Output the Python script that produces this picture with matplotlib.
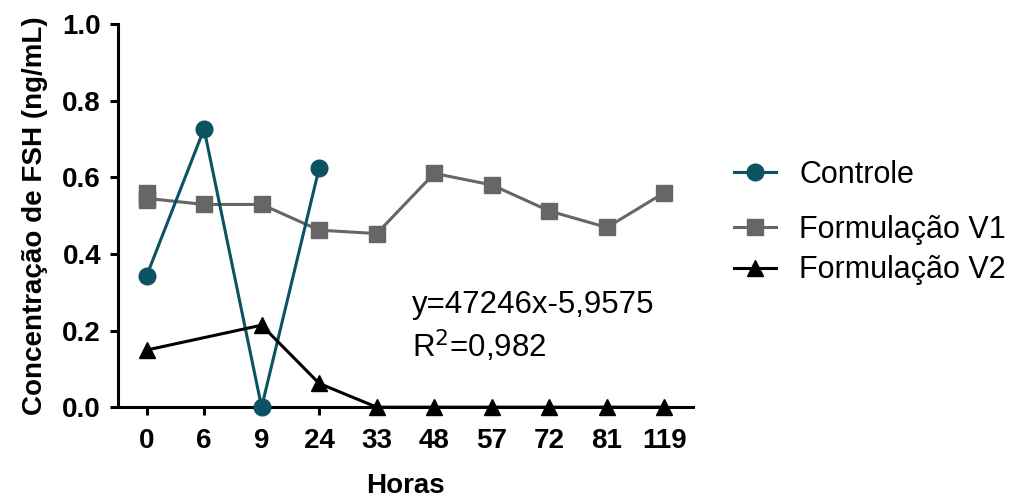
import matplotlib.pyplot as plt
import numpy as np

plt.rcParams['font.family'] = ['Liberation Sans', 'DejaVu Sans']

# Time points (hours), plotted as evenly spaced categories
horas = ['0', '6', '9', '24', '33', '48', '57', '72', '81', '119']

controle = [0.342, 0.726, 0.0, 0.624]
form_v1 = [0.545, 0.529, 0.529, 0.462, 0.453, 0.610, 0.580, 0.512, 0.469, 0.560]
form_v1_t0 = [0.559, 0.540]  # two overlapping readings at t=0
form_v2 = [0.149, None, 0.214, 0.062, 0.0, 0.0, 0.0, 0.0, 0.0, 0.0]

teal = '#0b5263'
gray = '#666666'

fig = plt.figure(figsize=(10.15, 4.99), dpi=100)
ax = fig.add_axes([0.116, 0.184, 0.567, 0.768])

x = np.arange(len(horas))
l1, = ax.plot(x[:len(controle)], controle, '-o', color=teal, lw=2.2, ms=12,
              label='Controle', zorder=4, clip_on=False)
l2, = ax.plot(x, form_v1, '-s', color=gray, lw=2.2, ms=11,
              label='Formulação V1', zorder=3, clip_on=False)
ax.plot([0, 0], form_v1_t0, 's', color=gray, ms=11, zorder=3)
v2 = np.array([np.nan if v is None else v for v in form_v2], dtype=float)
mask = ~np.isnan(v2)
l3, = ax.plot(x[mask], v2[mask], '-^', color='black', lw=2.2, ms=11,
              label='Formulação V2', zorder=5, clip_on=False)

ax.set_xlim(-0.5, 9.5)
ax.set_ylim(0, 1.0)
ax.set_xticks(x)
ax.set_xticklabels(horas)
ax.set_yticks([0, 0.2, 0.4, 0.6, 0.8, 1.0])
ax.set_yticklabels(['0.0', '0.2', '0.4', '0.6', '0.8', '1.0'])

for s in ['top', 'right']:
    ax.spines[s].set_visible(False)
for s in ['left', 'bottom']:
    ax.spines[s].set_linewidth(2.2)
ax.tick_params(width=2.2, length=6, labelsize=20)
ax.tick_params(axis='x', pad=9)
ax.tick_params(axis='y', pad=6)
for lbl in ax.get_xticklabels() + ax.get_yticklabels():
    lbl.set_fontweight('bold')

ax.set_xlabel('Horas', fontsize=20, fontweight='bold', labelpad=14)
ax.set_ylabel('Concentração de FSH (ng/mL)', fontsize=20, fontweight='bold', labelpad=10)

fig.text(0.406, 0.373, 'y=47246x-5,9575', fontsize=22.5, va='baseline')
fig.text(0.406, 0.283, r'R$^2$=0,982', fontsize=22.5, va='baseline')

leg_kw = dict(frameon=False, fontsize=22, handlelength=1.4, handletextpad=0.75,
              borderaxespad=0, borderpad=0, loc='center left')
leg1 = ax.legend(handles=[l1], bbox_to_anchor=(1.07, 0.607), **leg_kw)
ax.add_artist(leg1)
ax.legend(handles=[l2, l3], bbox_to_anchor=(1.07, 0.41), labelspacing=0.35, **leg_kw)

fig.savefig('out.png', dpi=100)
